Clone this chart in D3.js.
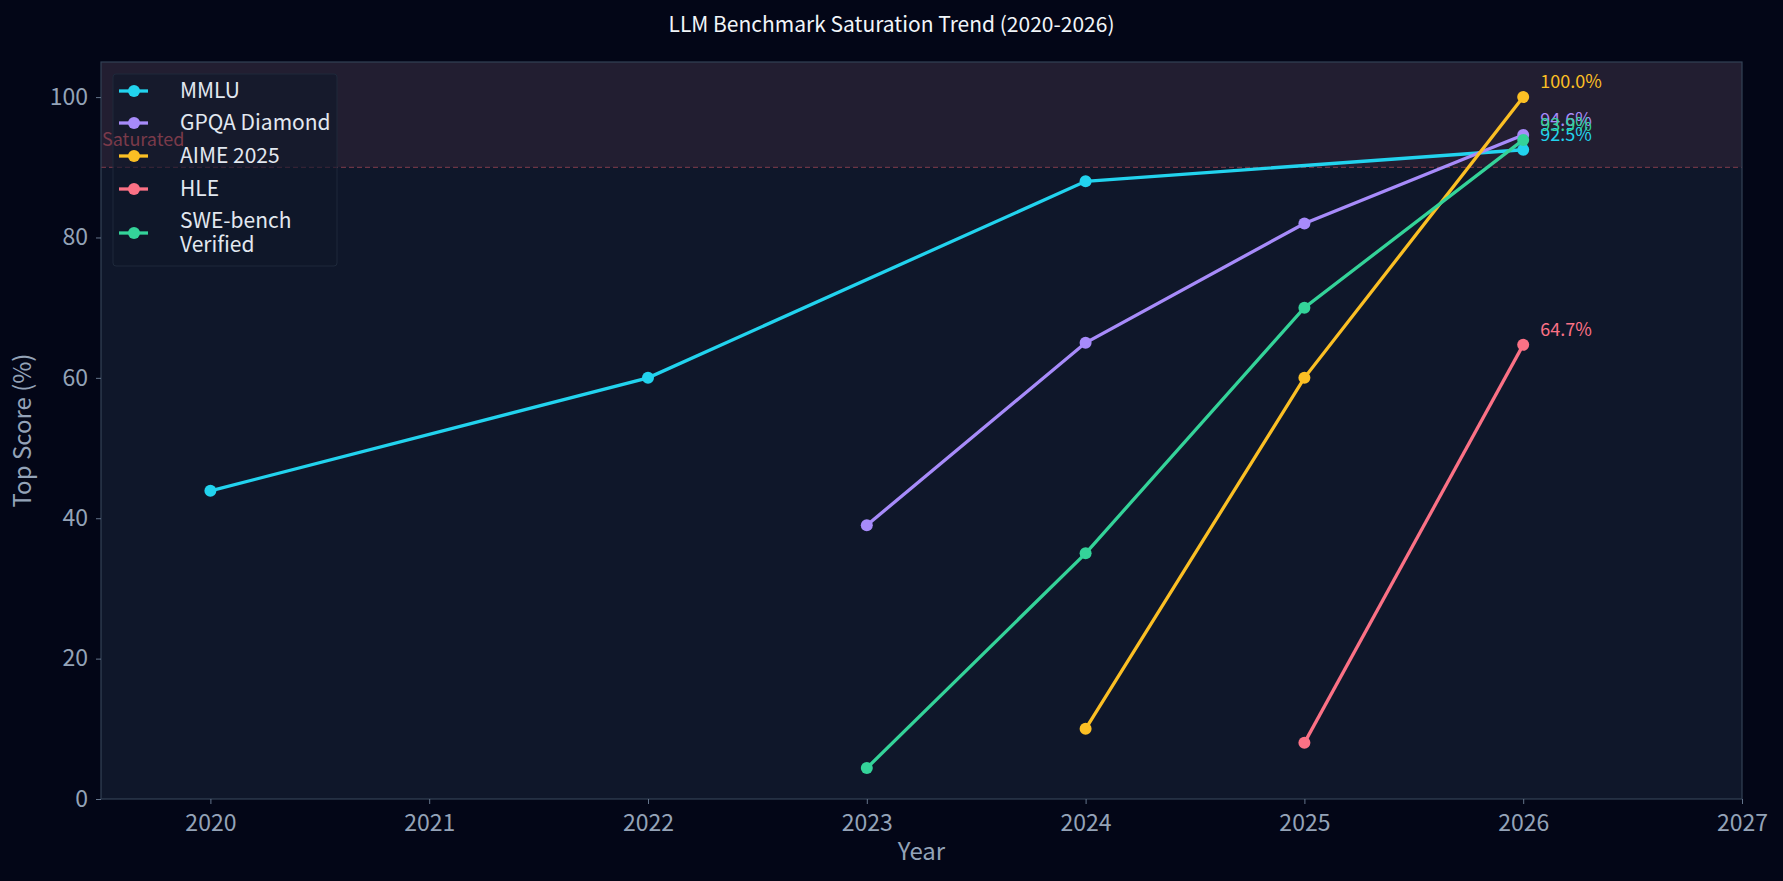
<!DOCTYPE html>
<html>
<head>
  <meta charset="utf-8">
  <script src="https://d3js.org/d3.v7.min.js"></script>
  <style>
    html, body { margin: 0; padding: 0; background: #030617; }
    svg { display: block; font-family: "Noto Sans CJK SC", "Noto Sans", sans-serif; }
  </style>
</head>
<body>
<script>
  // data
  var seriesNames = ["MMLU", "GPQA Diamond", "AIME 2025", "HLE", "SWE-bench Verified"];
  var seriesColors = ["#22d3ee", "#a78bfa", "#fbbf24", "#fb7185", "#34d399"];
  var mmluYears = [2020, 2022, 2024, 2026];
  var mmluScores = [43.9, 60, 88, 92.5];
  var gpqaYears = [2023, 2024, 2025, 2026];
  var gpqaScores = [39, 65, 82, 94.6];
  var aimeYears = [2024, 2025, 2026];
  var aimeScores = [10, 60, 100];
  var hleYears = [2025, 2026];
  var hleScores = [8, 64.7];
  var sweYears = [2023, 2024, 2025, 2026];
  var sweScores = [4.4, 35, 70, 93.9];
  var xTicks = [2020, 2021, 2022, 2023, 2024, 2025, 2026, 2027];
  var yTicks = [0, 20, 40, 60, 80, 100];
  var saturationLevel = 90;

  var allYears = [mmluYears, gpqaYears, aimeYears, hleYears, sweYears];
  var allScores = [mmluScores, gpqaScores, aimeScores, hleScores, sweScores];

  var series = seriesNames.map(function(name, i) {
    return {
      name: name,
      color: seriesColors[i],
      points: allYears[i].map(function(yr, j) { return {year: yr, score: allScores[i][j]}; })
    };
  });

  var config = {
    width: 1783, height: 881,
    margin: {left: 101, right: 41, top: 62, bottom: 82}
  };

  var svg = d3.select("body").append("svg")
    .attr("width", config.width)
    .attr("height", config.height);

  var x = d3.scaleLinear().domain([2019.5, 2027]).range([config.margin.left, config.width - config.margin.right]);
  var y = d3.scaleLinear().domain([0, 105]).range([config.height - config.margin.bottom, config.margin.top]);

  // plot background
  svg.append("rect")
    .attr("x", x.range()[0]).attr("y", y.range()[1])
    .attr("width", x.range()[1] - x.range()[0])
    .attr("height", y.range()[0] - y.range()[1])
    .attr("fill", "#0f172a");

  // saturated band
  svg.append("rect")
    .attr("x", x.range()[0]).attr("y", y(105))
    .attr("width", x.range()[1] - x.range()[0])
    .attr("height", y(saturationLevel) - y(105))
    .attr("fill", "#221e31");

  svg.append("line")
    .attr("x1", x.range()[0]).attr("x2", x.range()[1])
    .attr("y1", y(saturationLevel)).attr("y2", y(saturationLevel))
    .attr("stroke", "#6b3444").attr("stroke-width", 1.2)
    .attr("stroke-dasharray", "5,3");

  // spines
  svg.append("rect")
    .attr("x", x.range()[0]).attr("y", y.range()[1])
    .attr("width", x.range()[1] - x.range()[0])
    .attr("height", y.range()[0] - y.range()[1])
    .attr("fill", "none").attr("stroke", "#334155").attr("stroke-width", 1.2);

  // axes
  var xAxis = svg.append("g")
    .attr("transform", "translate(0," + y.range()[0] + ")")
    .call(d3.axisBottom(x).tickValues(xTicks).tickFormat(d3.format("d")).tickSize(5).tickPadding(11));
  var yAxis = svg.append("g")
    .attr("transform", "translate(" + x.range()[0] + ",0)")
    .call(d3.axisLeft(y).tickValues(yTicks).tickSize(5).tickPadding(8));

  [xAxis, yAxis].forEach(function(a) {
    a.select(".domain").remove();
    a.selectAll(".tick line").attr("stroke", "#64748b");
    a.selectAll(".tick text").attr("fill", "#94a3b8").attr("font-size", 23)
      .attr("font-family", "Noto Sans CJK SC, Noto Sans, sans-serif");
  });

  svg.append("text")
    .attr("x", (x.range()[0] + x.range()[1]) / 2).attr("y", 860)
    .attr("text-anchor", "middle").attr("fill", "#94a3b8").attr("font-size", 24)
    .text("Year");

  svg.append("text")
    .attr("transform", "translate(31," + (y.range()[0] + y.range()[1]) / 2 + ") rotate(-90)")
    .attr("text-anchor", "middle").attr("fill", "#94a3b8").attr("font-size", 24)
    .text("Top Score (%)");

  // title
  svg.append("text")
    .attr("x", config.width / 2).attr("y", 32)
    .attr("text-anchor", "middle").attr("fill", "#f1f5f9").attr("font-size", 21)
    .text("LLM Benchmark Saturation Trend (2020-2026)");

  // lines
  var line = d3.line().x(function(d) { return x(d.year); }).y(function(d) { return y(d.score); });

  var g = svg.selectAll(".series").data(series).enter().append("g").attr("class", "series");

  g.append("path")
    .attr("d", function(d) { return line(d.points); })
    .attr("fill", "none")
    .attr("stroke", function(d) { return d.color; })
    .attr("stroke-width", 3.3);

  g.selectAll("circle").data(function(d) { return d.points.map(function(p) { return {p: p, color: d.color}; }); })
    .enter().append("circle")
    .attr("cx", function(d) { return x(d.p.year); })
    .attr("cy", function(d) { return y(d.p.score); })
    .attr("r", 6)
    .attr("fill", function(d) { return d.color; });

  // end labels
  g.append("text")
    .attr("x", function(d) { return x(d.points[d.points.length - 1].year) + 17; })
    .attr("y", function(d) { return y(d.points[d.points.length - 1].score) - 9; })
    .attr("fill", function(d) { return d.color; })
    .attr("font-size", 18)
    .text(function(d) { return d.points[d.points.length - 1].score.toFixed(1) + "%"; });

  // legend
  var legend = svg.append("g").attr("transform", "translate(113,74)");
  legend.append("rect")
    .attr("width", 224).attr("height", 192).attr("rx", 3)
    .attr("fill", "#0f172a").attr("fill-opacity", 0.6)
    .attr("stroke", "#1e293b").attr("stroke-width", 1);

  svg.append("text")
    .attr("x", x.range()[0] + 1).attr("y", y(saturationLevel) - 21)
    .attr("fill", "#7a3a4a").attr("font-size", 18)
    .text("Saturated");

  var rowY = [17, 49, 82, 115, 159];
  var item = svg.append("g").attr("transform", "translate(113,74)")
    .selectAll(".item").data(series).enter().append("g")
    .attr("transform", function(d, i) { return "translate(0," + rowY[i] + ")"; });
  item.append("line")
    .attr("x1", 6).attr("x2", 35)
    .attr("stroke", function(d) { return d.color; }).attr("stroke-width", 3.3);
  item.append("circle")
    .attr("cx", 21).attr("r", 6)
    .attr("fill", function(d) { return d.color; });
  item.each(function(d) {
    var words = d.name === "SWE-bench Verified" ? ["SWE-bench", "Verified"] : [d.name];
    var t = d3.select(this).append("text")
      .attr("x", 67).attr("fill", "#e2e8f0").attr("font-size", 21);
    words.forEach(function(w, k) {
      t.append("tspan").attr("x", 67)
        .attr("y", (k - (words.length - 1) / 2) * 24 + 7)
        .text(w);
    });
  });
</script>
</body>
</html>
